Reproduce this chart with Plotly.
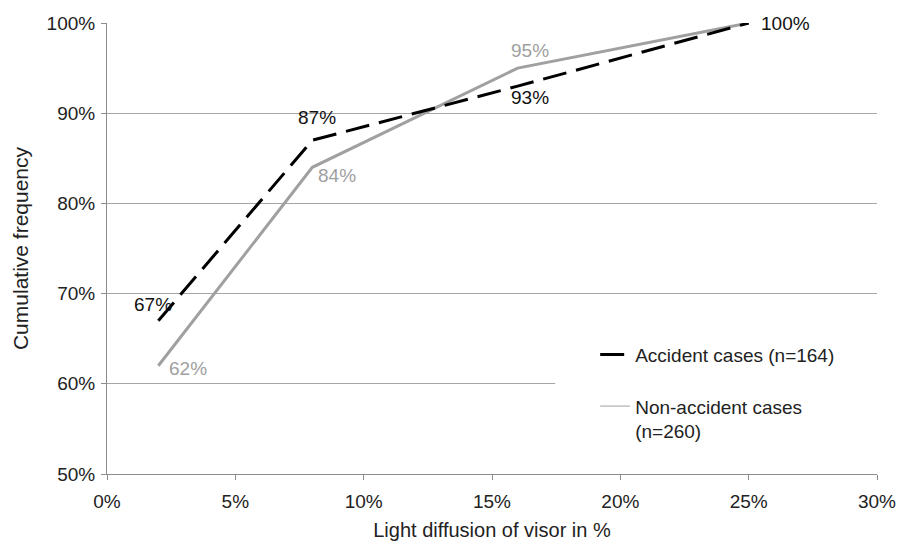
import plotly.graph_objects as go

# light diffusion of the visor (%) and cumulative frequency (%)
diffusion = [2, 8, 16, 25]
accident = [67, 87, 93, 100]
non_accident = [62, 84, 95, 100]

accident_name = "Accident cases (n=164)"
non_accident_name = "Non-accident cases<br>(n=260)"

x_ticks = [0, 5, 10, 15, 20, 25, 30]
y_ticks = [50, 60, 70, 80, 90, 100]

FONT = "Liberation Sans, Arial, sans-serif"
GRID = "#a6a6a6"
GRAY = "#a0a0a0"

fig = go.Figure()

fig.add_trace(go.Scatter(
    x=diffusion, y=non_accident, mode="lines", showlegend=False,
    line=dict(color=GRAY, width=3), cliponaxis=False,
))
fig.add_trace(go.Scatter(
    x=diffusion, y=accident, mode="lines", name=accident_name,
    legendgroup="a", line=dict(color="black", width=3, dash="24px,10px"),
    cliponaxis=False,
))
# thin legend entry for the grey series, as in the original
fig.add_trace(go.Scatter(
    x=[None], y=[None], mode="lines", name=non_accident_name,
    legendgroup="b", line=dict(color=GRAY, width=1),
))

# data labels
acc_shift = [(-5, 16), (5, 23), (12, -11), (None, 0)]
for xv, yv, (dx, dy) in zip(diffusion, accident, acc_shift):
    fig.add_annotation(
        x=xv, y=yv, text=f"{yv}%", showarrow=False,
        xanchor="left" if dx is None else "center",
        xshift=10 if dx is None else dx, yshift=dy,
        font=dict(color="#111", size=19),
    )
non_shift = [(30, -3), (25, -8), (12, 18)]
for xv, yv, (dx, dy) in zip(diffusion[:3], non_accident[:3], non_shift):
    fig.add_annotation(
        x=xv, y=yv, text=f"{yv}%", showarrow=False,
        xshift=dx, yshift=dy, font=dict(color=GRAY, size=19),
    )

# white box behind the legend (hides the grid line there)
fig.add_shape(
    type="rect", xref="paper", yref="paper", x0=0.582, x1=1.0, y0=0.07, y1=0.31,
    fillcolor="white", line=dict(width=0), layer="above",
)

# page body has an 8px margin, so the figure is sized to fit the window
fig.update_layout(
    width=901, height=533,
    margin=dict(l=99, r=32, t=14.5, b=67, autoexpand=False),
    plot_bgcolor="white", paper_bgcolor="white",
    font=dict(family=FONT, size=19, color="#222"),
    showlegend=True,
    legend=dict(
        x=0.634, y=0.307, xanchor="left", yanchor="top",
        bgcolor="rgba(0,0,0,0)", valign="top", tracegroupgap=24,
        font=dict(size=19, color="#222"),
    ),
    xaxis=dict(
        range=[0, 30], tickvals=x_ticks, ticktext=[f"{v}%" for v in x_ticks],
        tickfont=dict(size=19), automargin=False,
        showgrid=False, zeroline=False,
        showline=True, linecolor="#8c8c8c", linewidth=1,
        ticks="outside", ticklen=5, tickcolor="#8c8c8c",
        ticklabelstandoff=5,
        title=dict(text="Light diffusion of visor in %", standoff=12,
                   font=dict(size=20)),
    ),
    yaxis=dict(
        range=[50, 100], tickvals=y_ticks, ticktext=[f"{v}%" for v in y_ticks],
        tickfont=dict(size=19), automargin=False,
        showgrid=True, gridcolor=GRID, gridwidth=1, zeroline=False,
        showline=True, linecolor="#8c8c8c", linewidth=1,
        ticks="outside", ticklen=5, tickcolor="#8c8c8c",
        ticklabelstandoff=2,
        title=dict(text="Cumulative frequency", standoff=12,
                   font=dict(size=21)),
    ),
)

fig.write_html("out.html")
